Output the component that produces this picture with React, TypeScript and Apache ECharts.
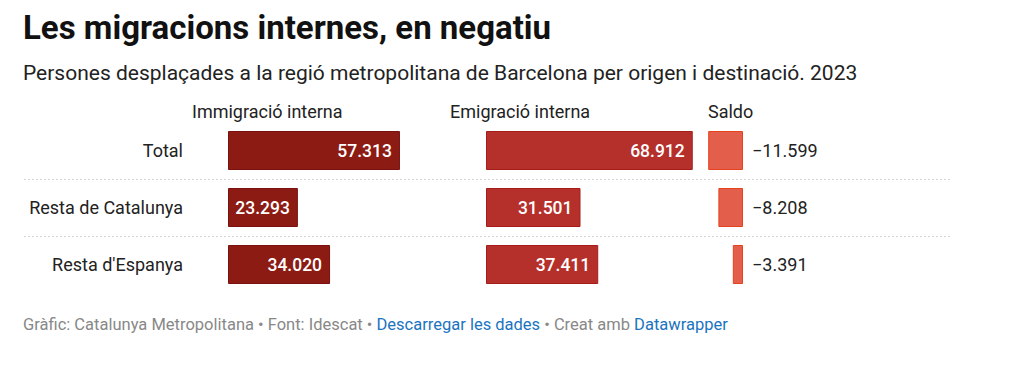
import React, { useEffect, useRef } from "react";
import * as echarts from "echarts";

const categories = ["Total", "Resta de Catalunya", "Resta d'Espanya"];
const immigracio = [57313, 23293, 34020];
const emigracio = [68912, 31501, 37411];
const saldo = [-11599, -8208, -3391];
const columnHeaders = ["Immigració interna", "Emigració interna", "Saldo"];
const titleText = "Les migracions internes, en negatiu";
const subtitleText =
  "Persones desplaçades a la regió metropolitana de Barcelona per origen i destinació. 2023";

const fmt = (v: number) => {
  const a = Math.abs(v);
  const s = a.toString().replace(/\B(?=(\d{3})+(?!\d))/g, ".");
  return (v < 0 ? "\u2212" : "") + s;
};

const FONT = "Roboto, 'Noto Sans', sans-serif";

export default function App() {
  const ref = useRef<HTMLDivElement>(null);
  useEffect(() => {
    if (!ref.current) return;
    const chart = echarts.init(ref.current, undefined, { renderer: "svg" });
    const top = 122;
    const height = 171;
    const pxPerUnit = 0.003;
    const mkGrid = (left: number, span: number) => ({
      left,
      top,
      width: span * pxPerUnit,
      height,
      containLabel: false,
    });
    const hiddenX = (min: number, max: number, idx: number) => ({
      type: "value" as const,
      gridIndex: idx,
      min,
      max,
      show: false,
    });
    const yCat = (idx: number, showLabel: boolean) => ({
      type: "category" as const,
      gridIndex: idx,
      data: categories,
      inverse: true,
      axisLine: { show: false },
      axisTick: { show: false },
      splitLine: { show: false },
      axisLabel: showLabel
        ? { show: true, margin: 45, fontSize: 18, color: "#222", fontFamily: FONT }
        : { show: false },
    });
    const valueLabel = {
      show: true,
      position: "insideRight" as const,
      distance: 8,
      color: "#fff",
      fontSize: 17.5,
      fontWeight: 500,
      fontFamily: FONT,
      formatter: (p: any) => fmt(p.value),
    };
    chart.setOption({
      animation: false,
      backgroundColor: "#fff",
      grid: [mkGrid(228, 80000), mkGrid(486, 80000), mkGrid(683, 20000)],
      xAxis: [hiddenX(0, 80000, 0), hiddenX(0, 80000, 1), hiddenX(-20000, 0, 2)],
      yAxis: [yCat(0, true), yCat(1, false), yCat(2, false)],
      series: [
        {
          type: "bar",
          xAxisIndex: 0,
          yAxisIndex: 0,
          data: immigracio,
          barWidth: 39,
          itemStyle: { color: "#8c1b14", borderColor: "#7a1010", borderWidth: 1 },
          label: valueLabel,
        },
        {
          type: "bar",
          xAxisIndex: 1,
          yAxisIndex: 1,
          data: emigracio,
          barWidth: 39,
          itemStyle: { color: "#b5302a", borderColor: "#a51d1b", borderWidth: 1 },
          label: valueLabel,
        },
        {
          type: "bar",
          xAxisIndex: 2,
          yAxisIndex: 2,
          data: saldo,
          barWidth: 39,
          itemStyle: { color: "#e45f4b", borderColor: "#e6421f", borderWidth: 1 },
          label: {
            show: true,
            position: "right",
            distance: 9,
            color: "#222",
            fontSize: 18,
            fontFamily: FONT,
            formatter: (p: any) => fmt(p.value),
          },
        },
      ],
      graphic: [
        {
          type: "text",
          left: 23,
          top: 11,
          style: { text: titleText, font: `bold 33px ${FONT}`, fill: "#111" },
        },
        {
          type: "text",
          left: 23,
          top: 62,
          style: { text: subtitleText, font: `21px ${FONT}`, fill: "#222" },
        },
        {
          type: "text",
          left: 192,
          top: 102,
          style: { text: columnHeaders[0], font: `18px ${FONT}`, fill: "#222" },
        },
        {
          type: "text",
          left: 450,
          top: 102,
          style: { text: columnHeaders[1], font: `18px ${FONT}`, fill: "#222" },
        },
        {
          type: "text",
          left: 708,
          top: 102,
          style: { text: columnHeaders[2], font: `18px ${FONT}`, fill: "#222" },
        },
        {
          type: "line",
          shape: { x1: 24, y1: 179.5, x2: 950, y2: 179.5 },
          style: { stroke: "#d4d4d4", lineWidth: 1, lineDash: [2, 2] },
        },
        {
          type: "line",
          shape: { x1: 24, y1: 236.5, x2: 950, y2: 236.5 },
          style: { stroke: "#d4d4d4", lineWidth: 1, lineDash: [2, 2] },
        },
        {
          type: "text",
          left: 23,
          top: 316,
          style: {
            rich: {
              g: { fill: "#888", font: `16.5px ${FONT}` },
              b: { fill: "#1a74c0", font: `16.5px ${FONT}` },
            },
            text:
              "{g|Gràfic: Catalunya Metropolitana • Font: Idescat • }{b|Descarregar les dades}{g| • Creat amb }{b|Datawrapper}",
          },
        },
      ],
    });
    return () => chart.dispose();
  }, []);
  return <div ref={ref} style={{ width: 1024, height: 382, position: "absolute", left: 0, top: 0 }} />;
}
